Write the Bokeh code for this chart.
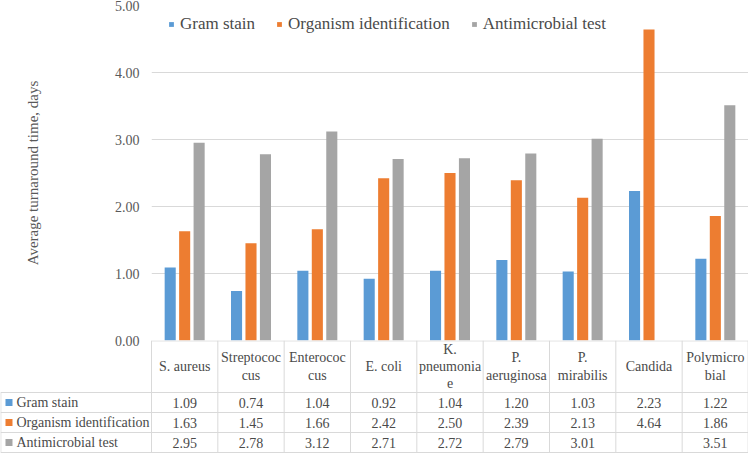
import math
from bokeh.plotting import figure
from bokeh.models import (ColumnDataSource, FactorRange, Range1d, FixedTicker,
                          NumeralTickFormatter, Legend, LegendItem)
from bokeh.transform import dodge
from bokeh.layouts import column
from bokeh.core.properties import value
from bokeh.embed import file_html
from bokeh.resources import INLINE

# ---------------- data ----------------
categories = ["S. aureus", "Streptococcus", "Enterococcus", "E. coli", "K. pneumoniae",
              "P. aeruginosa", "P. mirabilis", "Candida", "Polymicrobial"]
header_labels = ["S. aureus", "Streptococ\ncus", "Enterococ\ncus", "E. coli", "K.\npneumonia\ne",
                 "P.\naeruginosa", "P.\nmirabilis", "Candida", "Polymicro\nbial"]
series_names = ["Gram stain", "Organism identification", "Antimicrobial test"]
gram_stain = [1.09, 0.74, 1.04, 0.92, 1.04, 1.20, 1.03, 2.23, 1.22]
organism_identification = [1.63, 1.45, 1.66, 2.42, 2.50, 2.39, 2.13, 4.64, 1.86]
antimicrobial_test = [2.95, 2.78, 3.12, 2.71, 2.72, 2.79, 3.01, None, 3.51]
y_ticks = [0, 1, 2, 3, 4, 5]
y_label = "Average turnaround time, days"

# ---------------- style ----------------
colors = ["#5B9BD5", "#ED7D31", "#A5A5A5"]
FONT = "Liberation Serif"
TXT = "#4A4A4A"
GRID = "#D9D9D9"
W = 748
OVER = 9            # bottom border of the chart that the table overlaps
TOP_H = 340 + OVER
BOT_H = 113
LEFT = 151
N = len(categories)
CAT_W = (W - LEFT) / N
LABEL_W = LEFT / CAT_W
HEAD = 2.6
FS = "14px"

series = [gram_stain, organism_identification, antimicrobial_test]
keys = ["gram", "org", "anti"]
data = {"cat": categories}
for k, s in zip(keys, series):
    data[k] = [float("nan") if v is None else v for v in s]
src = ColumnDataSource(data)

# ---------------- chart ----------------
p = figure(width=W, height=TOP_H,
           x_range=FactorRange(factors=categories, range_padding=0, factor_padding=0),
           y_range=Range1d(0, 5), output_backend="svg", toolbar_location=None,
           min_border_left=LEFT, min_border_right=0, min_border_top=5, min_border_bottom=OVER,
           x_axis_location=None)

offsets = [-0.218, 0.0, 0.218]
items = []
for k, name, col, off in zip(keys, series_names, colors, offsets):
    r = p.vbar(x=dodge("cat", off, range=p.x_range), top=k, width=0.167, source=src,
               fill_color=col, line_color=None)
    items.append(LegendItem(label=name, renderers=[r]))

legend = Legend(items=items, orientation="horizontal", location=(17, 306),
                label_text_font=FONT, label_text_font_size="17px", label_text_color=TXT,
                glyph_width=6, glyph_height=6, label_height=20, label_standoff=6, spacing=21,
                padding=0, margin=0, border_line_color=None, background_fill_alpha=0)
p.add_layout(legend)

ticker = FixedTicker(ticks=y_ticks)
p.yaxis.ticker = ticker
p.ygrid.ticker = ticker
p.yaxis.formatter = NumeralTickFormatter(format="0.00")
p.yaxis.axis_line_color = None
p.yaxis.major_tick_line_color = None
p.yaxis.minor_tick_line_color = None
p.yaxis.major_label_text_font = FONT
p.yaxis.major_label_text_font_size = "14px"
p.yaxis.major_label_text_color = "#595959"
p.yaxis.major_label_standoff = 6
p.yaxis.axis_label = y_label
p.yaxis.axis_label_text_font = FONT
p.yaxis.axis_label_text_font_size = "15px"
p.yaxis.axis_label_text_font_style = "normal"
p.yaxis.axis_label_text_color = "#595959"
p.yaxis.axis_label_standoff = 71
p.xgrid.visible = False
p.ygrid.grid_line_color = GRID
p.outline_line_color = None

# ---------------- data table ----------------
t = figure(width=W, height=BOT_H, x_range=Range1d(-LABEL_W, N),
           y_range=Range1d(HEAD - BOT_H / 20.0, HEAD),
           output_backend="svg", toolbar_location=None, min_border=0,
           x_axis_location=None, y_axis_location=None,
           margin=(-OVER, 0, 0, 0))
try:
    t.frame_align = False
except Exception:
    pass
t.grid.visible = False
t.outline_line_color = None
t.background_fill_alpha = 0
t.border_fill_alpha = 0

# vertical lines
vx = [min(i, N - 0.005) for i in range(N + 1)] + [-LABEL_W + 0.005]
vy0 = [-3] * (N + 1) + [-3]
vy1 = [HEAD] * (N + 1) + [0]
t.segment(x0=vx, y0=vy0, x1=vx, y1=vy1, line_color=GRID, line_width=1)
# horizontal lines
hy = [0, -1, -2, -3, HEAD - 0.02]
hx0 = [-LABEL_W] * 4 + [0]
t.segment(x0=hx0, y0=hy, x1=[N] * 5, y1=hy, line_color=GRID, line_width=1)

centers = [i + 0.5 for i in range(N)]
t.text(x=centers, y=[HEAD / 2] * N, text=header_labels, text_align="center",
       text_baseline="middle", text_font=value(FONT), text_font_size=FS,
       text_color=TXT, text_line_height=1.15)

for row, (s, name, col) in enumerate(zip(series, series_names, colors)):
    yc = -(row + 0.5)
    t.text(x=centers, y=[yc] * N, text=["" if v is None else f"{v:.2f}" for v in s],
           text_align="center", text_baseline="middle", text_font=value(FONT),
           text_font_size=FS, text_color=TXT)
    t.scatter(x=[-LABEL_W + 0.128], y=[yc], marker="square", size=7,
              fill_color=col, line_color=None)
    t.text(x=[-LABEL_W + 0.241], y=[yc], text=[name], text_align="left",
           text_baseline="middle", text_font=value(FONT), text_font_size=FS,
           text_color=TXT)

layout = column(p, t, spacing=0)
open("out.html", "w").write(file_html(layout, INLINE))
